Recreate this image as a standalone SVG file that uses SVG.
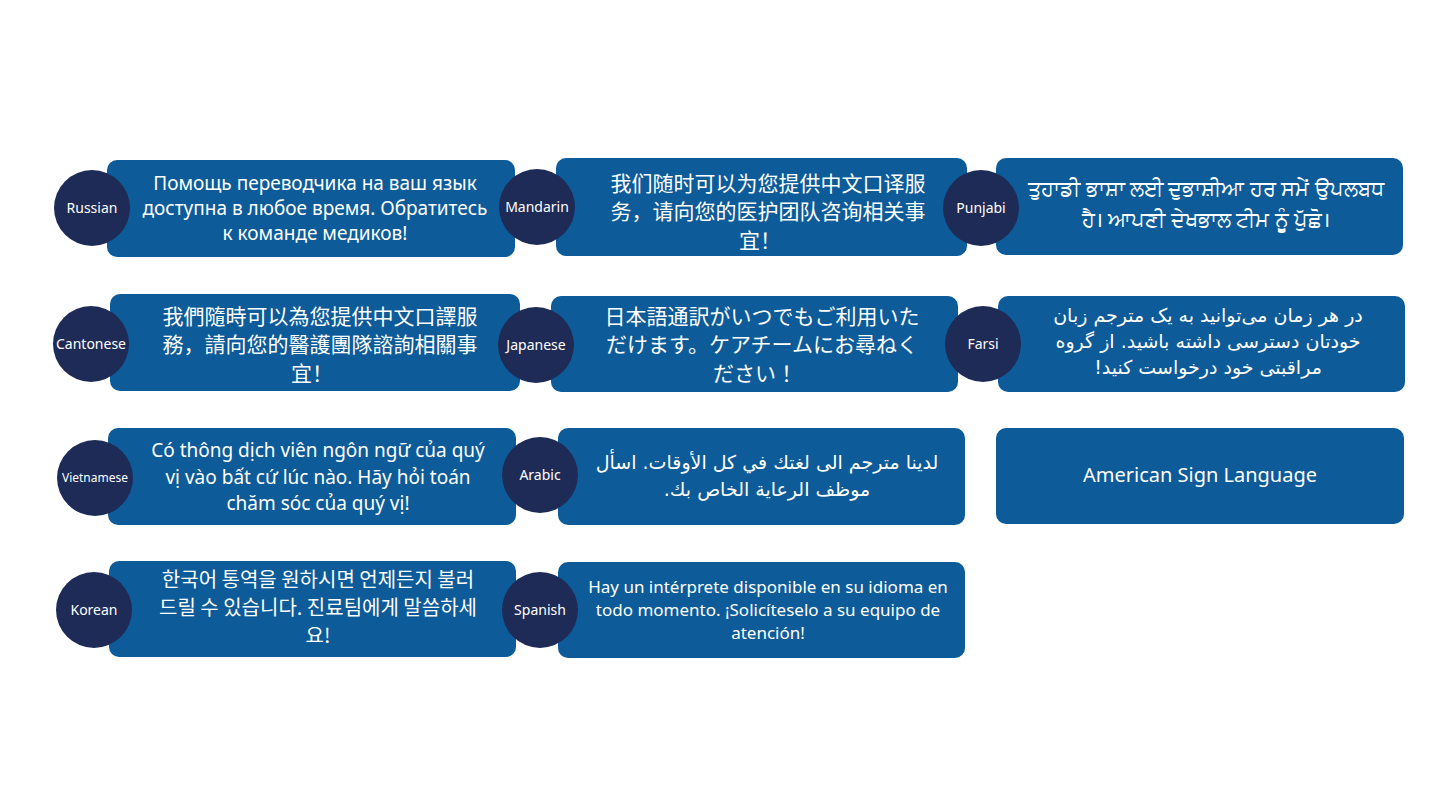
<svg xmlns="http://www.w3.org/2000/svg" width="1440" height="810" viewBox="0 0 1440 810">
<style>
.b{fill:#0d5b98}
.c{fill:#1e2b57}
.l{fill:#fff;font-family:"Noto Sans","Liberation Sans",sans-serif;font-size:14px;text-anchor:middle}
.t{fill:#fff;font-family:"Noto Sans","DejaVu Sans","Noto Sans CJK SC",sans-serif;font-size:19px;text-anchor:middle}
.p{fill:#fff;font-family:"Noto Sans","DejaVu Sans",sans-serif;font-size:21px;text-anchor:middle}
.k{fill:#fff;font-family:"Noto Sans CJK SC",sans-serif;font-size:21px;text-anchor:middle}
.j{fill:#fff;font-family:"Noto Sans CJK JP",sans-serif;font-size:21px;text-anchor:middle}
.o{fill:#fff;font-family:"Noto Sans CJK KR",sans-serif;font-size:20px;text-anchor:middle}
.a{fill:#fff;font-family:"DejaVu Sans","Noto Sans",sans-serif;font-size:19px;text-anchor:middle}
</style>
<rect width="1440" height="810" fill="#fff"/>
<g id="russian"><rect class="b" x="107" y="160" width="408" height="97" rx="10"/><circle class="c" cx="92" cy="208" r="38"/><text class="l" x="92" y="213">Russian</text>
<text class="t" x="315" y="190">Помощь переводчика на ваш язык</text><text class="t" x="315" y="215">доступна в любое время. Обратитесь</text><text class="t" x="315" y="240">к команде медиков!</text></g>
<g id="mandarin"><rect class="b" x="556" y="158" width="411" height="98" rx="10"/><circle class="c" cx="537" cy="207" r="38"/><text class="l" x="537" y="212">Mandarin</text>
<text class="k" x="768" y="191">我们随时可以为您提供中文口译服</text><text class="k" x="768" y="219">务，请向您的医护团队咨询相关事</text><text class="k" x="760" y="248">宜！</text></g>
<g id="punjabi"><rect class="b" x="996" y="158" width="407" height="97" rx="10"/><circle class="c" cx="981" cy="208" r="38"/><text class="l" x="981" y="213">Punjabi</text>
<text class="p" x="1206" y="196">ਤੁਹਾਡੀ ਭਾਸ਼ਾ ਲਈ ਦੁਭਾਸ਼ੀਆ ਹਰ ਸਮੇਂ ਉਪਲਬਧ</text><text class="p" x="1206" y="227">ਹੈ। ਆਪਣੀ ਦੇਖਭਾਲ ਟੀਮ ਨੂੰ ਪੁੱਛੋ।</text></g>
<g id="cantonese"><rect class="b" x="110" y="294" width="410" height="97" rx="10"/><circle class="c" cx="91" cy="344" r="38"/><text class="l" x="91" y="349">Cantonese</text>
<text class="k" x="320" y="324">我們隨時可以為您提供中文口譯服</text><text class="k" x="320" y="352">務，請向您的醫護團隊諮詢相關事</text><text class="k" x="312" y="381">宜！</text></g>
<g id="japanese"><rect class="b" x="551" y="296" width="407" height="96" rx="10"/><circle class="c" cx="536" cy="345" r="38"/><text class="l" x="536" y="350">Japanese</text>
<text class="j" x="762" y="324">日本語通訳がいつでもご利用いた</text><text class="j" x="762" y="352">だけます。ケアチームにお尋ねく</text><text class="j" x="755" y="381">ださい！</text></g>
<g id="farsi"><rect class="b" x="998" y="296" width="407" height="96" rx="10"/><circle class="c" cx="983" cy="344" r="38"/><text class="l" x="983" y="349">Farsi</text>
<text class="a" direction="rtl" x="1208" y="322">در هر زمان می‌توانید به یک مترجم زبان</text><text class="a" direction="rtl" x="1208" y="348">خودتان دسترسی داشته باشید. از گروه</text><text class="a" direction="rtl" x="1208" y="374">مراقبتی خود درخواست کنید!</text></g>
<g id="vietnamese"><rect class="b" x="108" y="428" width="408" height="97" rx="10"/><circle class="c" cx="95" cy="478" r="38"/><text class="l" style="font-size:12px" x="95" y="482">Vietnamese</text>
<text class="t" x="318" y="457">Có thông dịch viên ngôn ngữ của quý</text><text class="t" x="318" y="484">vị vào bất cứ lúc nào. Hãy hỏi toán</text><text class="t" x="318" y="510">chăm sóc của quý vị!</text></g>
<g id="arabic"><rect class="b" x="558" y="428" width="407" height="97" rx="10"/><circle class="c" cx="540" cy="475" r="38"/><text class="l" x="540" y="480">Arabic</text>
<text class="a" direction="rtl" x="767" y="469">لدينا مترجم الى لغتك في كل الأوقات. اسأل</text><text class="a" direction="rtl" x="767" y="496">موظف الرعاية الخاص بك.</text></g>
<g id="asl"><rect class="b" x="996" y="428" width="408" height="96" rx="10"/><text class="t" style="font-size:20px" x="1200" y="482">American Sign Language</text></g>
<g id="korean"><rect class="b" x="109" y="561" width="407" height="96" rx="10"/><circle class="c" cx="94" cy="610" r="38"/><text class="l" x="94" y="615">Korean</text>
<text class="o" x="318" y="587">한국어 통역을 원하시면 언제든지 불러</text><text class="o" x="318" y="615">드릴 수 있습니다. 진료팀에게 말씀하세</text><text class="o" x="318" y="643">요!</text></g>
<g id="spanish"><rect class="b" x="558" y="562" width="407" height="96" rx="10"/><circle class="c" cx="540" cy="610" r="38"/><text class="l" x="540" y="615">Spanish</text>
<text class="t" style="font-size:17px" x="768" y="593">Hay un intérprete disponible en su idioma en</text><text class="t" style="font-size:17px" x="768" y="616">todo momento. ¡Solicíteselo a su equipo de</text><text class="t" style="font-size:17px" x="768" y="639">atención!</text></g>
<g id="connectors"/>
</svg>
